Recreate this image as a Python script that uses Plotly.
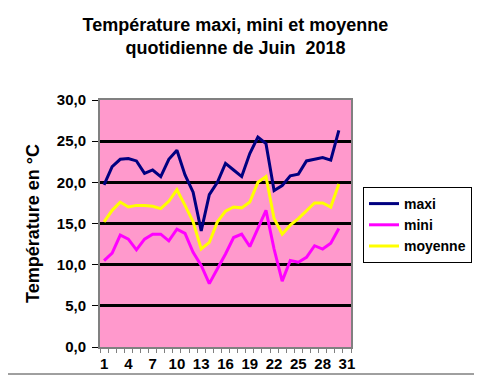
import plotly.graph_objects as go

days = list(range(1, 31))
maxi = [19.7, 21.9, 22.8, 22.9, 22.6, 21.1, 21.5, 20.7, 22.8, 23.9, 20.9, 18.8, 14.1, 18.5, 20.0,
        22.3, 21.5, 20.7, 23.5, 25.5, 24.7, 19.0, 19.6, 20.8, 21.0, 22.6, 22.8, 23.0, 22.7, 26.3]
mini = [10.5, 11.4, 13.6, 13.1, 11.8, 13.1, 13.7, 13.7, 12.9, 14.3, 13.8, 11.5, 9.9, 7.7, 9.5,
        11.3, 13.3, 13.7, 12.2, 14.4, 16.6, 11.9, 8.0, 10.5, 10.3, 10.9, 12.3, 11.9, 12.6, 14.4]
moyenne = [15.2, 16.6, 17.6, 17.0, 17.2, 17.2, 17.1, 16.8, 17.7, 19.1, 17.2, 15.2, 11.9, 12.7, 15.2,
           16.5, 17.0, 16.9, 17.6, 20.0, 20.7, 15.6, 13.7, 14.8, 15.6, 16.6, 17.5, 17.5, 17.0, 19.8]

x_tickvals = list(range(1, 32, 3))
x_ticktext = [str(v) for v in x_tickvals]
y_tickvals = [0, 5, 10, 15, 20, 25, 30]
y_ticktext = ["0,0", "5,0", "10,0", "15,0", "20,0", "25,0", "30,0"]

# page body has an 8px margin: figure occupies window px 8..482 / 8..375
OFF = 8
W, H = 482 - OFF, 375 - OFF
ML, MT = 100 - OFF, 100 - OFF
PR, PB = 351 - OFF, 347 - OFF
MR, MB = W - PR, H - PB
PW, PH = W - ML - MR, H - MT - MB

font = "Liberation Sans, Arial, sans-serif"

fig = go.Figure()
series = [("maxi", maxi, "#000080"), ("mini", mini, "#FF00FF"), ("moyenne", moyenne, "#FFFF00")]
for name, vals, col in series:
    fig.add_trace(go.Scatter(x=days, y=vals, mode="lines", name=name, legendgroup=name,
                             line=dict(color=col, width=3)))

fig.update_layout(
    width=W, height=H,
    margin=dict(l=ML, r=MR, t=MT, b=MB, pad=0, autoexpand=False),
    paper_bgcolor="white", plot_bgcolor="#FF99CC",
    font=dict(family=font, color="black"),
    title=dict(text="Température maxi, mini et moyenne<br>quotidienne de Juin  2018",
               x=(235.5 - OFF) / W, xanchor="center", y=1 - 23 / H, yanchor="top",
               font=dict(size=18, family=font, weight="bold")),
    showlegend=True,
    legend=dict(x=(363 - OFF - ML) / PW, xanchor="left",
                y=(PB - (187 - OFF)) / PH, yanchor="top",
                bgcolor="white", bordercolor="black", borderwidth=1,
                font=dict(size=14, family=font, color="black", weight="bold"),
                tracegroupgap=4, itemwidth=30, traceorder="normal"),
    xaxis=dict(range=[0.5, 31.5], tickmode="array", tickvals=x_tickvals, ticktext=x_ticktext,
               ticks="", showgrid=False, zeroline=False, automargin=False,
               showline=True, linecolor="#808080", linewidth=2, mirror=True,
               ticklabelstandoff=2,
               tickfont=dict(size=15, family=font, color="black", weight="bold"),
               minor=dict(tickmode="linear", tick0=0.5, dtick=1, ticks="outside", ticklen=4,
                          tickcolor="#808080", tickwidth=1, showgrid=False)),
    yaxis=dict(range=[0, 30], tickmode="array", tickvals=y_tickvals, ticktext=y_ticktext,
               ticks="outside", ticklen=6, tickcolor="black", tickwidth=1, automargin=False,
               ticklabelstandoff=3,
               showgrid=True, gridcolor="black", gridwidth=2.5, zeroline=False,
               showline=True, linecolor="#808080", linewidth=2, mirror=True,
               tickfont=dict(size=15, family=font, color="black", weight="bold"),
               title=dict(text="Température en °C", font=dict(size=18, family=font, weight="bold"),
                          standoff=12)),
)

# outer chart border (right and bottom edges of the chart)
fig.add_shape(type="rect", xref="paper", yref="paper",
              x0=-(ML + 10) / PW, x1=1 + (MR - 1) / PW,
              y0=-(MB - 1) / PH, y1=1 + (MT + 10) / PH,
              line=dict(color="#404040", width=1), fillcolor="rgba(0,0,0,0)", layer="below")

fig.write_html("out.html")
